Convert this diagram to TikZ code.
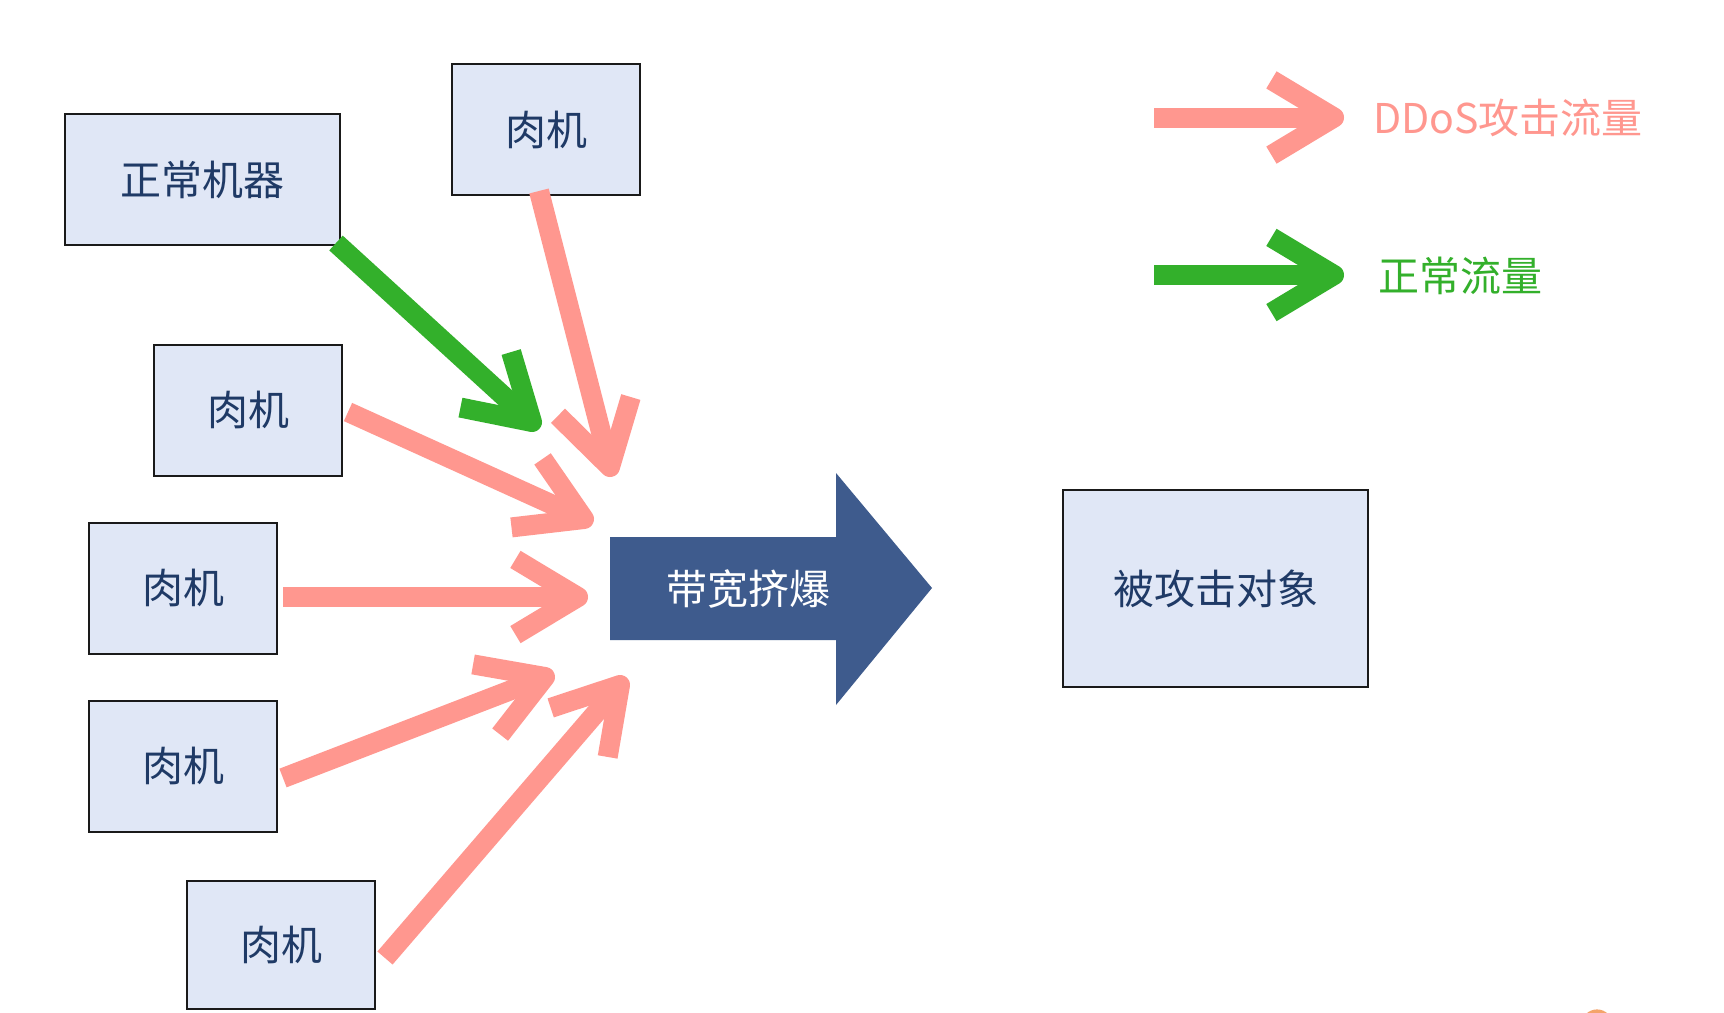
\documentclass[tikz,border=0pt]{standalone}
\usepackage{fontspec}
\setmainfont{Noto Sans CJK SC}
\usetikzlibrary{calc}
\definecolor{ddos}{HTML}{FF978F}
\definecolor{normal}{HTML}{33B02B}
\definecolor{bigblue}{HTML}{3E5B8D}
\definecolor{boxfill}{HTML}{E0E7F6}
\definecolor{boxtext}{HTML}{1F3A66}
\definecolor{boxline}{HTML}{1A1A1A}
\definecolor{speck}{HTML}{F4A46A}
\tikzset{
  hostbox/.style={draw=boxline, line width=2pt, fill=boxfill, text=boxtext,
    font=\fontsize{41}{45}\selectfont, minimum width=188pt, minimum height=131pt, inner sep=0pt},
  flowline/.style={line width=20pt, line cap=butt, line join=round},
  legendtext/.style={font=\fontsize{41}{45}\selectfont, anchor=west, inner sep=0pt},
}
\newcommand\flowarrow[4]{%
  \draw[flowline, #1] (#2) -- (#3);
  \draw[flowline, #1] ($(#3)!#4!31:(#2)$) -- (#3) -- ($(#3)!#4!-31:(#2)$);
}
\begin{document}
\begin{tikzpicture}[x=1pt, y=-1pt]
\useasboundingbox (0,0) rectangle (1724,1012);
\fill[white] (0,0) rectangle (1724,1012);

% boxes
\node[hostbox, minimum width=275pt] (normalpc) at (202.5,179.5) {正常机器};
\node[hostbox] (bot1) at (546,129.5) {肉机};
\node[hostbox] (bot2) at (248,410) {肉机};
\node[hostbox] (bot3) at (183,588) {肉机};
\node[hostbox] (bot4) at (183,766) {肉机};
\node[hostbox, minimum height=128pt] (bot5) at (281,945) {肉机};
\node[hostbox, minimum width=305pt, minimum height=197pt] (victim) at (1215.5,588.5) {被攻击对象};

% big arrow
\fill[bigblue] (610,537) -- (836,537) -- (836,473) -- (932,588) -- (836,705) -- (836,640) -- (610,640) -- cycle;
\node[text=white, font=\fontsize{41}{45}\selectfont, inner sep=0pt] (squeeze) at (748,589) {带宽挤爆};

% flow coordinates
\coordinate (g0) at (336,243);  \coordinate (gt) at (532,422);
\coordinate (p1s) at (539,191); \coordinate (p1t) at (610,467);
\coordinate (p2s) at (348,412); \coordinate (p2t) at (584,519);
\coordinate (p3s) at (283,597); \coordinate (p3t) at (578,597);
\coordinate (p4s) at (283,778); \coordinate (p4t) at (545,677);
\coordinate (p5s) at (385,958); \coordinate (p5t) at (620,685);

\flowarrow{normal}{g0}{gt}{73pt}
\flowarrow{ddos}{p1s}{p1t}{73pt}
\flowarrow{ddos}{p2s}{p2t}{73pt}
\flowarrow{ddos}{p3s}{p3t}{73pt}
\flowarrow{ddos}{p4s}{p4t}{73pt}
\flowarrow{ddos}{p5s}{p5t}{73pt}

% legend
\coordinate (l1s) at (1154,117.5); \coordinate (l1t) at (1334,117.5);
\coordinate (l2s) at (1154,275); \coordinate (l2t) at (1334,275);
\flowarrow{ddos}{l1s}{l1t}{73pt}
\flowarrow{normal}{l2s}{l2t}{73pt}
\node[legendtext, text=ddos] (ddoslabel) at (1373,118) {DDoS攻击流量};
\node[legendtext, text=normal] (normallabel) at (1378,276) {正常流量};

% speck at bottom edge
\begin{scope}
  \clip (0,0) rectangle (1724,1012);
  \fill[speck] (1597,1025) circle (15.6);
\end{scope}
\end{tikzpicture}
\end{document}
